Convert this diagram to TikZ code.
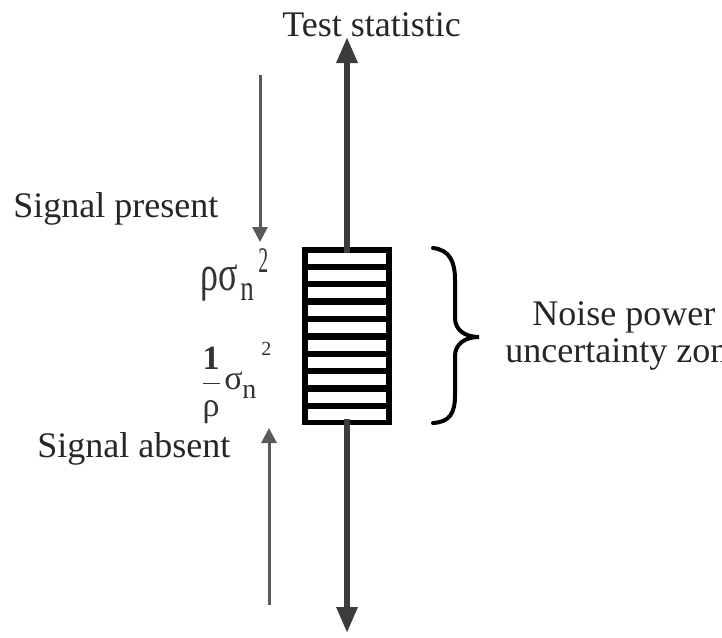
\documentclass[tikz,border=0pt]{standalone}
\usepackage{fontspec}
\setmainfont{Liberation Serif}
\usepackage{graphicx}
\usetikzlibrary{arrows.meta,positioning}
\definecolor{axisgray}{HTML}{3C3C3C}
\definecolor{hintgray}{HTML}{5A5A5A}

\begin{document}
\begin{tikzpicture}[x=0.5pt,y=-0.5pt,
    lbl/.style={font=\fontsize{18}{21}\selectfont,text=black!85,inner sep=0pt,anchor=base west},
    sym/.style={text=black!80,inner sep=0pt,anchor=base west},
    axis/.style={line width=3pt,draw=axisgray,-{Triangle[length=13pt,width=10pt]}},
    hint/.style={line width=1.5pt,draw=hintgray,-{Triangle[length=7.5pt,width=7.5pt]}}]
  \useasboundingbox (0,0) rectangle (722,637);
  \clip (0,0) rectangle (722,637);
  % striped zone on the axis
  \node (zone) [fill=black,inner sep=0pt,minimum width=45pt,minimum height=89pt] at (347,336) {};
  \foreach \i in {0,...,9}
    \fill[white] (308,{252.5+17.4*\i}) rectangle (386,{263.5+17.4*\i});
  \coordinate (top) at (347,37);
  \coordinate (bot) at (347,633);
  \draw[axis] ([yshift=-3pt]zone.north) -- (top);
  \draw[axis] ([yshift=3pt]zone.south) -- (bot);
  % hint arrows
  \coordinate (pstart) at (260,75);
  \coordinate (pend) at (260,242);
  \coordinate (astart) at (269,605);
  \coordinate (aend) at (269,428);
  \draw[hint] (pstart) -- (pend);
  \draw[hint] (astart) -- (aend);
  % labels
  \node[lbl] (title) at (282,36) {Test statistic};
  \node[lbl] (present) at (13,217) {Signal present};
  \node[lbl] (absent) at (37,457) {Signal absent};
  \node[lbl] (noise) at (532,325) {Noise power};
  \node[lbl] (uncert) at (505,362) {uncertainty zone};
  % thresholds
  \node[sym,font=\fontsize{25}{28}\selectfont] (rhosig) at (200,290) {\scalebox{0.72}[1]{ρσ}};
  \node[sym,font=\fontsize{18}{20}\selectfont] (rhosub) at (240,300) {\scalebox{0.75}[1]{n}};
  \node[sym,font=\fontsize{18}{20}\selectfont] (rhosup) at (258,272) {\scalebox{0.55}[1]{2}};
  \node[sym,anchor=center,font=\fontsize{17}{19}\selectfont] (inv) at (211,385) {$\displaystyle\frac{\hbox{\textbf{1}}}{\hbox{ρ}}$};
  \node[sym,font=\fontsize{17}{19}\selectfont] (invsig) at (224,389) {σ};
  \node[sym,font=\fontsize{14}{16}\selectfont] (invsub) at (242,398) {n};
  \node[sym,font=\fontsize{10}{12}\selectfont] (invsup) at (261,355) {2};
  % brace
  \coordinate (btop) at (433,248);
  \coordinate (btip) at (479,337);
  \coordinate (bbot) at (433,423);
  \draw[line width=2pt,line cap=round] (btop) .. controls (450,250) and (455,262) .. (455,280)
    -- (455,318) .. controls (455,330) and (465,337) .. (btip)
    .. controls (465,337) and (455,344) .. (455,356)
    -- (455,395) .. controls (455,413) and (450,422) .. (bbot);
\end{tikzpicture}
\end{document}
